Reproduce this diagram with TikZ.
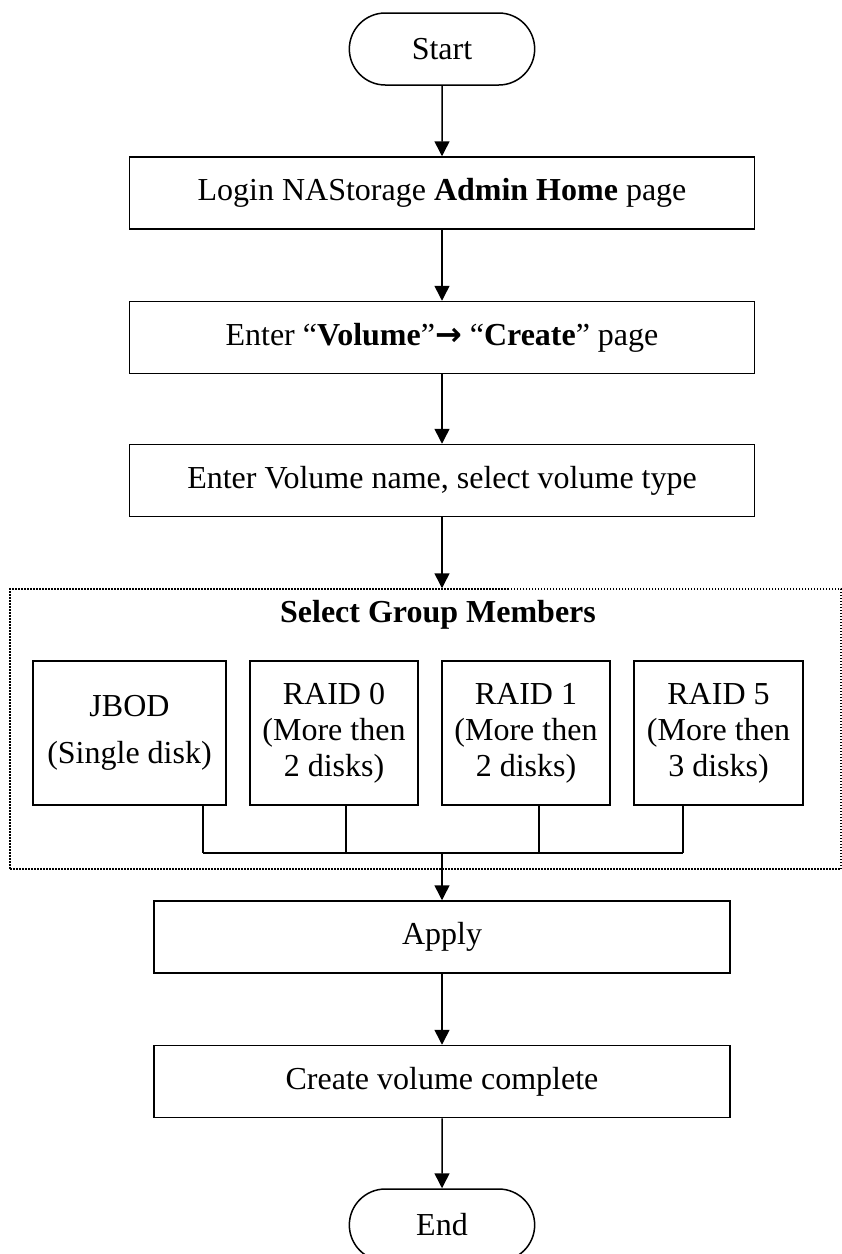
\documentclass[tikz,border=0pt]{standalone}
\usepackage{fontspec}
\setmainfont{Liberation Serif}
\newfontfamily\arrowfont{DejaVu Sans}
\usetikzlibrary{arrows.meta,shapes.misc}

\begin{document}
\begin{tikzpicture}[x=1pt,y=-1pt,line width=1.5pt,
  every node/.style={font=\fontsize{32}{36}\selectfont},
  flowbox/.style={draw,rectangle,minimum height=72pt,align=center},
  termbox/.style={draw,rounded rectangle,minimum width=192pt,minimum height=72pt},
  raidbox/.style={draw,rectangle,minimum height=144pt,align=center},
  flow/.style={-{Triangle[width=15pt,length=15pt]}}]
\useasboundingbox (0,0) rectangle (842,1254);
% steps
\node (start) [termbox] at (442,49) {Start};
\node (login) [flowbox,minimum width=625pt] at (442,193) {Login NAStorage \textbf{Admin Home} page};
\node (menu) [flowbox,minimum width=625pt] at (442,337.5) {Enter “\textbf{Volume}”{\arrowfont\bfseries →} “\textbf{Create}” page};
\node (volname) [flowbox,minimum width=625pt] at (442,480.5) {Enter Volume name, select volume type};
% group members
\node (group) [draw,rectangle,dash pattern=on 1.5pt off 1.5pt,minimum width=831pt,minimum height=280pt] at (425.5,729) {};
\node (grouptitle) at (438,615) {\textbf{Select Group Members}};
\node (jbod) [raidbox,minimum width=193pt] at (129.5,733) {JBOD\\[11pt](Single disk)};
\node (raid0) [raidbox,minimum width=168pt] at (334,733) {RAID 0\\(More then\\2 disks)};
\node (raid1) [raidbox,minimum width=168pt] at (526,733) {RAID 1\\(More then\\2 disks)};
\node (raid5) [raidbox,minimum width=169pt] at (718.5,733) {RAID 5\\(More then\\3 disks)};
\coordinate (tapj) at (203,853);
\coordinate (tap0) at (346,853);
\coordinate (tap1) at (539,853);
\coordinate (tap5) at (683,853);
\coordinate (bus) at (442,853);
\node (apply) [flowbox,minimum width=576pt] at (442,937) {Apply};
\node (done) [flowbox,minimum width=576pt] at (442,1081.5) {Create volume complete};
\node (end) [termbox] at (442,1225) {End};
% connectors
\draw [flow] (start) -- (login);
\draw [flow] (login) -- (menu);
\draw [flow] (menu) -- (volname);
\draw [flow] (volname) -- (group.north -| volname);
\draw (jbod.south -| tapj) -- (tapj);
\draw (raid0.south -| tap0) -- (tap0);
\draw (raid1.south -| tap1) -- (tap1);
\draw (raid5.south -| tap5) -- (tap5);
\draw (tapj) -- (tap5);
\draw [flow] (bus) -- (apply);
\draw [flow] (apply) -- (done);
\draw [flow] (done) -- (end);
\end{tikzpicture}
\end{document}
